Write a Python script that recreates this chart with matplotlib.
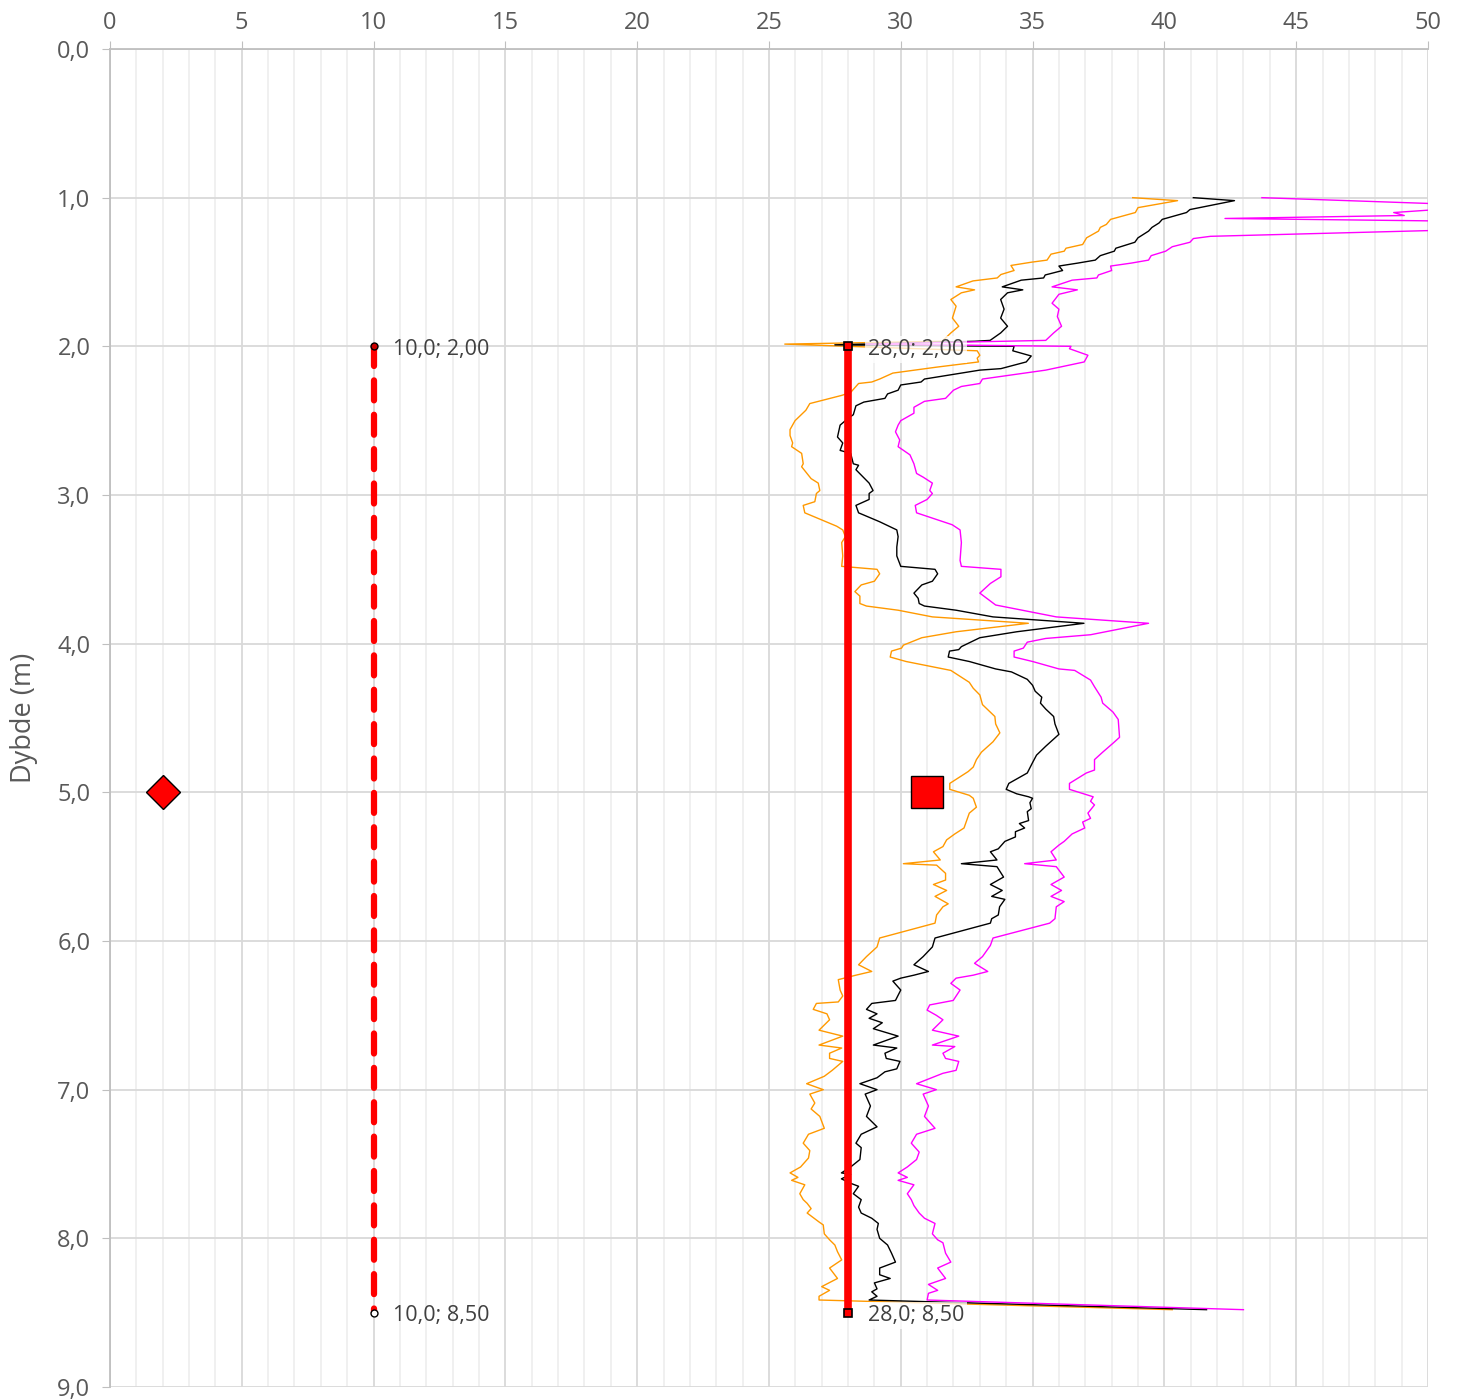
import matplotlib.pyplot as plt
from matplotlib.ticker import MultipleLocator, FuncFormatter

plt.rcParams['font.family'] = ['Open Sans', 'DejaVu Sans']

# Middelverdi (svart)
dybde_svart = [1.00, 1.02, 1.08, 1.10, 1.146, 1.17, 1.20, 1.225, 1.27, 1.30, 1.34, 1.36, 1.39, 1.42, 1.44,
               1.46, 1.49, 1.52, 1.54, 1.555, 1.60, 1.62, 1.64, 1.685, 1.75, 1.81, 1.865, 1.91, 1.96, 1.966,
               1.99, 2.00, 2.03, 2.065, 2.105, 2.15, 2.16, 2.22, 2.24, 2.26, 2.295, 2.32, 2.35, 2.375, 2.40,
               2.46, 2.485, 2.53, 2.61, 2.65, 2.70, 2.72, 2.79, 2.80, 2.83, 2.92, 2.97, 2.99, 3.03, 3.07,
               3.12, 3.18, 3.235, 3.28, 3.35, 3.41, 3.48, 3.50, 3.53, 3.58, 3.605, 3.66, 3.695, 3.73, 3.747,
               3.775, 3.82, 3.863, 3.92, 3.96, 4.02, 4.04, 4.05, 4.09, 4.12, 4.17, 4.19, 4.24, 4.28, 4.32,
               4.36, 4.40, 4.44, 4.49, 4.54, 4.61, 4.69, 4.75, 4.80, 4.87, 4.94, 4.98, 5.01, 5.03, 5.04,
               5.07, 5.11, 5.13, 5.19, 5.21, 5.24, 5.265, 5.30, 5.33, 5.38, 5.40, 5.455, 5.48, 5.50, 5.57,
               5.62, 5.66, 5.70, 5.72, 5.77, 5.825, 5.85, 5.88, 5.98, 6.04, 6.105, 6.16, 6.205, 6.23, 6.25,
               6.27, 6.33, 6.40, 6.42, 6.46, 6.49, 6.52, 6.55, 6.59, 6.64, 6.70, 6.72, 6.755, 6.79, 6.81,
               6.86, 6.88, 6.92, 6.96, 7.00, 7.03, 7.11, 7.18, 7.25, 7.30, 7.36, 7.39, 7.47, 7.52, 7.56,
               7.57, 7.60, 7.63, 7.65, 7.70, 7.74, 7.79, 7.83, 7.865, 7.90, 7.94, 8.00, 8.045, 8.10, 8.16,
               8.20, 8.245, 8.27, 8.30, 8.34, 8.36, 8.39, 8.415, 8.48]
qc_svart = [41.1, 42.66, 40.97, 40.84, 39.92, 39.8, 39.53, 39.4, 39.0, 38.88, 38.16, 38.1, 37.57, 37.38, 36.72,
            36.0, 36.14, 35.48, 35.42, 34.57, 33.85, 34.63, 34.05, 33.79, 33.92, 33.79, 34.05, 33.79, 33.39, 32.81,
            27.5, 34.3, 34.25, 34.95, 34.76, 33.8, 33.0, 30.9, 30.77, 30.0, 29.9, 29.5, 29.4, 28.6, 28.3,
            28.2, 28.0, 27.7, 27.6, 27.8, 27.7, 28.1, 28.2, 28.4, 28.3, 28.8, 28.95, 28.8, 28.8, 28.3,
            28.4, 29.2, 29.85, 29.9, 29.85, 29.85, 30.0, 31.3, 31.4, 31.2, 30.8, 30.5, 30.66, 30.7, 30.9,
            32.1, 33.5, 36.95, 34.4, 33.0, 32.3, 32.2, 31.85, 31.8, 32.6, 33.6, 34.2, 34.8, 35.0, 35.1,
            35.35, 35.3, 35.5, 35.8, 35.85, 36.0, 35.5, 35.15, 35.0, 34.8, 34.1, 34.0, 34.4, 34.85, 35.0,
            34.9, 34.95, 34.8, 34.85, 34.5, 34.7, 34.35, 34.35, 33.95, 33.7, 33.4, 33.65, 32.3, 33.65, 33.9,
            33.4, 33.85, 33.45, 33.95, 33.75, 33.7, 33.45, 33.4, 31.3, 31.2, 30.85, 30.5, 31.05, 30.5, 30.0,
            29.7, 30.0, 29.8, 28.9, 28.7, 29.1, 28.8, 29.3, 28.96, 29.9, 28.96, 29.85, 29.4, 29.45, 29.97,
            29.85, 29.4, 29.1, 28.45, 29.1, 28.65, 28.85, 28.7, 29.1, 28.5, 28.3, 28.5, 28.45, 28.1, 27.75,
            28.1, 27.75, 28.1, 28.4, 28.2, 28.5, 28.4, 28.5, 28.9, 29.15, 29.1, 29.2, 29.5, 29.65, 29.8,
            29.2, 29.2, 29.6, 29.0, 29.1, 28.9, 29.1, 28.8, 41.6]

# Nedre grense (oransje)
dybde_oransje = [1.00, 1.02, 1.067, 1.10, 1.146, 1.18, 1.20, 1.225, 1.27, 1.315, 1.34, 1.36, 1.38, 1.42, 1.434,
                 1.456, 1.49, 1.517, 1.54, 1.56, 1.60, 1.62, 1.64, 1.685, 1.73, 1.81, 1.865, 1.91, 1.966, 1.985,
                 2.03, 2.06, 2.08, 2.105, 2.14, 2.18, 2.22, 2.24, 2.25, 2.31, 2.33, 2.385, 2.43, 2.50, 2.56,
                 2.60, 2.65, 2.675, 2.72, 2.79, 2.81, 2.89, 2.92, 2.97, 2.99, 3.045, 3.07, 3.12, 3.21, 3.235,
                 3.28, 3.32, 3.41, 3.48, 3.50, 3.53, 3.58, 3.605, 3.65, 3.68, 3.73, 3.747, 3.775, 3.82, 3.863,
                 3.92, 3.96, 4.01, 4.03, 4.05, 4.09, 4.12, 4.155, 4.18, 4.26, 4.30, 4.345, 4.41, 4.49, 4.54,
                 4.60, 4.66, 4.73, 4.78, 4.83, 4.86, 4.94, 4.98, 5.02, 5.04, 5.10, 5.14, 5.19, 5.24, 5.28,
                 5.32, 5.365, 5.40, 5.455, 5.48, 5.49, 5.545, 5.59, 5.62, 5.66, 5.70, 5.75, 5.77, 5.825, 5.88,
                 5.98, 6.04, 6.105, 6.16, 6.205, 6.23, 6.26, 6.33, 6.37, 6.41, 6.42, 6.46, 6.49, 6.53, 6.60,
                 6.64, 6.70, 6.72, 6.755, 6.79, 6.81, 6.87, 6.91, 6.96, 7.00, 7.03, 7.09, 7.13, 7.18, 7.26,
                 7.30, 7.36, 7.41, 7.46, 7.52, 7.56, 7.59, 7.61, 7.64, 7.70, 7.74, 7.765, 7.80, 7.83, 7.89,
                 7.91, 7.97, 8.01, 8.045, 8.09, 8.145, 8.20, 8.27, 8.325, 8.35, 8.39, 8.415, 8.48]
qc_oransje = [38.8, 40.5, 39.0, 38.9, 37.96, 37.8, 37.57, 37.5, 37.05, 36.9, 36.27, 36.2, 35.7, 35.55, 34.96,
              34.18, 34.3, 33.8, 33.66, 32.74, 32.1, 32.8, 32.3, 31.9, 32.1, 31.96, 32.2, 31.9, 31.57, 25.6,
              32.9, 33.0, 32.9, 32.95, 31.36, 29.7, 29.2, 28.9, 28.4, 28.1, 27.76, 26.55, 26.4, 25.99, 25.8,
              25.8, 25.9, 25.86, 26.24, 26.3, 26.24, 26.6, 26.87, 26.93, 26.8, 26.74, 26.3, 26.36, 27.57, 27.8,
              27.9, 27.76, 27.8, 27.76, 29.1, 29.2, 29.0, 28.5, 28.26, 28.45, 28.45, 28.7, 29.9, 31.2, 34.84,
              32.1, 30.8, 30.1, 30.03, 29.65, 29.6, 30.2, 31.2, 31.9, 32.6, 32.75, 33.0, 33.1, 33.57, 33.6,
              33.76, 33.5, 33.06, 32.87, 32.75, 32.56, 31.86, 31.86, 32.6, 32.75, 32.87, 32.6, 32.5, 32.4, 32.05,
              31.74, 31.6, 31.24, 31.5, 30.1, 31.36, 31.7, 31.7, 31.24, 31.74, 31.3, 31.8, 31.6, 31.36, 31.3,
              29.2, 29.1, 28.7, 28.4, 28.9, 28.3, 27.63, 27.7, 27.8, 27.63, 26.8, 26.68, 27.2, 27.3, 26.9,
              27.8, 26.9, 27.76, 27.3, 27.3, 27.8, 27.4, 27.1, 26.43, 27.06, 26.55, 26.74, 26.6, 26.93, 27.1,
              26.5, 26.3, 26.55, 26.5, 26.2, 25.8, 26.1, 25.86, 26.36, 26.17, 26.3, 26.45, 26.6, 26.45, 26.9,
              27.06, 27.1, 27.3, 27.5, 27.6, 27.76, 27.3, 27.6, 27.0, 27.3, 26.9, 26.9, 40.3]

# Øvre grense (magenta)
dybde_magenta = [1.00, 1.04, 1.06, 1.10, 1.12, 1.14, 1.16, 1.21, 1.26, 1.275, 1.30, 1.33, 1.36, 1.39, 1.42,
                 1.44, 1.46, 1.49, 1.52, 1.54, 1.555, 1.60, 1.62, 1.65, 1.71, 1.75, 1.80, 1.865, 1.91, 1.96,
                 1.985, 2.00, 2.016, 2.06, 2.105, 2.16, 2.22, 2.25, 2.27, 2.295, 2.35, 2.37, 2.41, 2.45, 2.50,
                 2.53, 2.575, 2.63, 2.675, 2.73, 2.79, 2.855, 2.88, 2.92, 2.97, 2.99, 3.03, 3.07, 3.12, 3.20,
                 3.235, 3.32, 3.44, 3.48, 3.50, 3.55, 3.595, 3.66, 3.70, 3.74, 3.82, 3.863, 3.94, 3.965, 3.99,
                 4.03, 4.05, 4.09, 4.12, 4.17, 4.18, 4.245, 4.29, 4.36, 4.40, 4.46, 4.51, 4.63, 4.67, 4.73,
                 4.78, 4.85, 4.87, 4.94, 4.98, 5.03, 5.06, 5.085, 5.14, 5.175, 5.20, 5.24, 5.28, 5.33, 5.355,
                 5.40, 5.455, 5.48, 5.50, 5.57, 5.62, 5.66, 5.70, 5.735, 5.77, 5.85, 5.88, 5.98, 6.03, 6.105,
                 6.15, 6.205, 6.23, 6.25, 6.285, 6.33, 6.40, 6.43, 6.465, 6.50, 6.53, 6.60, 6.64, 6.70, 6.71,
                 6.755, 6.79, 6.81, 6.87, 6.89, 6.96, 7.00, 7.03, 7.11, 7.18, 7.26, 7.30, 7.36, 7.42, 7.47,
                 7.52, 7.56, 7.59, 7.61, 7.64, 7.70, 7.74, 7.78, 7.83, 7.865, 7.90, 7.97, 8.01, 8.03, 8.10,
                 8.16, 8.20, 8.27, 8.31, 8.35, 8.37, 8.415, 8.48]
qc_magenta = [43.7, 50.2, 52.0, 48.7, 49.1, 42.3, 52.0, 52.5, 41.75, 41.1, 40.97, 40.3, 40.05, 39.5, 39.4,
              38.75, 37.96, 38.0, 37.5, 37.44, 36.5, 35.74, 36.7, 36.0, 35.74, 36.0, 35.94, 36.1, 35.8, 35.5,
              28.7, 36.46, 36.4, 37.1, 36.96, 35.5, 33.1, 33.0, 32.3, 32.0, 31.7, 30.9, 30.5, 30.5, 30.0,
              29.9, 29.8, 29.96, 29.9, 30.35, 30.5, 30.6, 30.85, 31.2, 31.1, 31.2, 31.0, 30.55, 30.6, 31.95,
              32.25, 32.3, 32.25, 32.3, 33.8, 33.8, 33.4, 33.0, 33.3, 33.6, 35.9, 39.4, 37.2, 35.5, 34.8,
              34.65, 34.3, 34.3, 35.0, 36.0, 36.6, 37.2, 37.35, 37.6, 37.66, 38.05, 38.25, 38.3, 38.05, 37.66,
              37.35, 37.35, 37.04, 36.4, 36.4, 37.3, 37.2, 37.35, 37.1, 37.2, 36.9, 36.98, 36.5, 36.2, 36.0,
              35.7, 35.9, 34.7, 35.9, 36.2, 35.7, 36.1, 35.7, 36.2, 35.9, 35.85, 35.65, 33.5, 33.4, 33.1,
              32.8, 33.3, 32.75, 32.1, 31.9, 32.25, 31.99, 31.1, 31.0, 31.35, 31.6, 31.2, 32.2, 31.2, 32.05,
              31.6, 31.7, 32.2, 32.1, 31.6, 30.6, 31.35, 30.85, 31.05, 30.9, 31.3, 30.6, 30.4, 30.7, 30.6,
              30.25, 29.9, 30.25, 29.9, 30.5, 30.25, 30.4, 30.5, 30.7, 30.9, 31.3, 31.2, 31.4, 31.6, 31.7,
              31.9, 31.4, 31.7, 31.05, 31.4, 31.05, 31.0, 43.0]

# Punkter og linjer
linje_heltrukken_x = [28.0, 28.0]
linje_heltrukken_y = [2.0, 8.5]
linje_stiplet_x = [10.0, 10.0]
linje_stiplet_y = [2.0, 8.5]
diamant = (2.0, 5.0)
kvadrat = (31.0, 5.0)

fig = plt.figure(figsize=(14.58, 14.0), dpi=100)
ax = fig.add_axes([0.0754, 0.0093, 0.9040, 0.9557])

ax.plot(qc_oransje, dybde_oransje, color='#ff9900', lw=1.0, zorder=3)
ax.plot(qc_svart, dybde_svart, color='black', lw=1.0, zorder=3)
ax.plot(qc_magenta, dybde_magenta, color='#ff00ff', lw=1.0, zorder=3)

ax.plot(linje_heltrukken_x, linje_heltrukken_y, color='#ff0000', lw=5.5, zorder=4)
ax.plot(linje_heltrukken_x, linje_heltrukken_y, ls='none', marker='s', ms=6,
        mfc='#ff0000', mec='black', mew=1.2, zorder=5)
ax.plot(linje_stiplet_x, linje_stiplet_y, color='#ff0000', lw=4.5, ls=(0, (3.2, 2.3)),
        dash_capstyle='round', zorder=4)
ax.plot(linje_stiplet_x[:1], linje_stiplet_y[:1], ls='none', marker='o', ms=5,
        mfc='#cc0000', mec='black', mew=1.0, zorder=5)
ax.plot(linje_stiplet_x[1:], linje_stiplet_y[1:], ls='none', marker='o', ms=5,
        mfc='white', mec='black', mew=1.0, zorder=5)

ax.plot(*diamant, ls='none', marker='D', ms=17, mfc='#ff0000', mec='black', mew=1.0, zorder=5)
ax.plot(*kvadrat, ls='none', marker='s', ms=23, mfc='#ff0000', mec='black', mew=1.0, zorder=5)

boks = dict(boxstyle='square,pad=0.15', fc='white', ec='none', alpha=0.75)
for x, y in zip(linje_heltrukken_x, linje_heltrukken_y):
    ax.text(x + 0.75, y + 0.02, f'{x:.1f}; {y:.2f}'.replace('.', ','), va='center', ha='left',
            fontsize=15.5, color='#404040', bbox=boks, zorder=6)
for x, y in zip(linje_stiplet_x, linje_stiplet_y):
    ax.text(x + 0.75, y + 0.02, f'{x:.1f}; {y:.2f}'.replace('.', ','), va='center', ha='left',
            fontsize=15.5, color='#404040', zorder=6)

ax.set_xlim(0, 50)
ax.set_ylim(9, 0)
ax.xaxis.set_major_locator(MultipleLocator(5))
ax.xaxis.set_minor_locator(MultipleLocator(1))
ax.yaxis.set_major_locator(MultipleLocator(1))
ax.yaxis.set_major_formatter(FuncFormatter(lambda v, p: f'{v:.1f}'.replace('.', ',')))
ax.xaxis.tick_top()
ax.tick_params(axis='x', which='major', length=6, color='#bfbfbf', labelsize=17,
               labelcolor='#595959', pad=4)
ax.tick_params(axis='x', which='minor', length=0)
ax.tick_params(axis='y', which='major', length=6, color='#bfbfbf', labelsize=17,
               labelcolor='#595959', pad=8)

ax.grid(True, which='major', color='#d9d9d9', lw=1.3, zorder=0)
ax.grid(True, which='minor', axis='x', color='#efefef', lw=1.3, zorder=0)
ax.set_axisbelow(True)

for side in ['right', 'bottom']:
    ax.spines[side].set_visible(False)
for side in ['left', 'top']:
    ax.spines[side].set_color('#bfbfbf')
    ax.spines[side].set_linewidth(1.3)

ax.set_ylabel('Dybde (m)', fontsize=19.5, color='#595959', labelpad=14)

fig.savefig('out.png', dpi=100)
